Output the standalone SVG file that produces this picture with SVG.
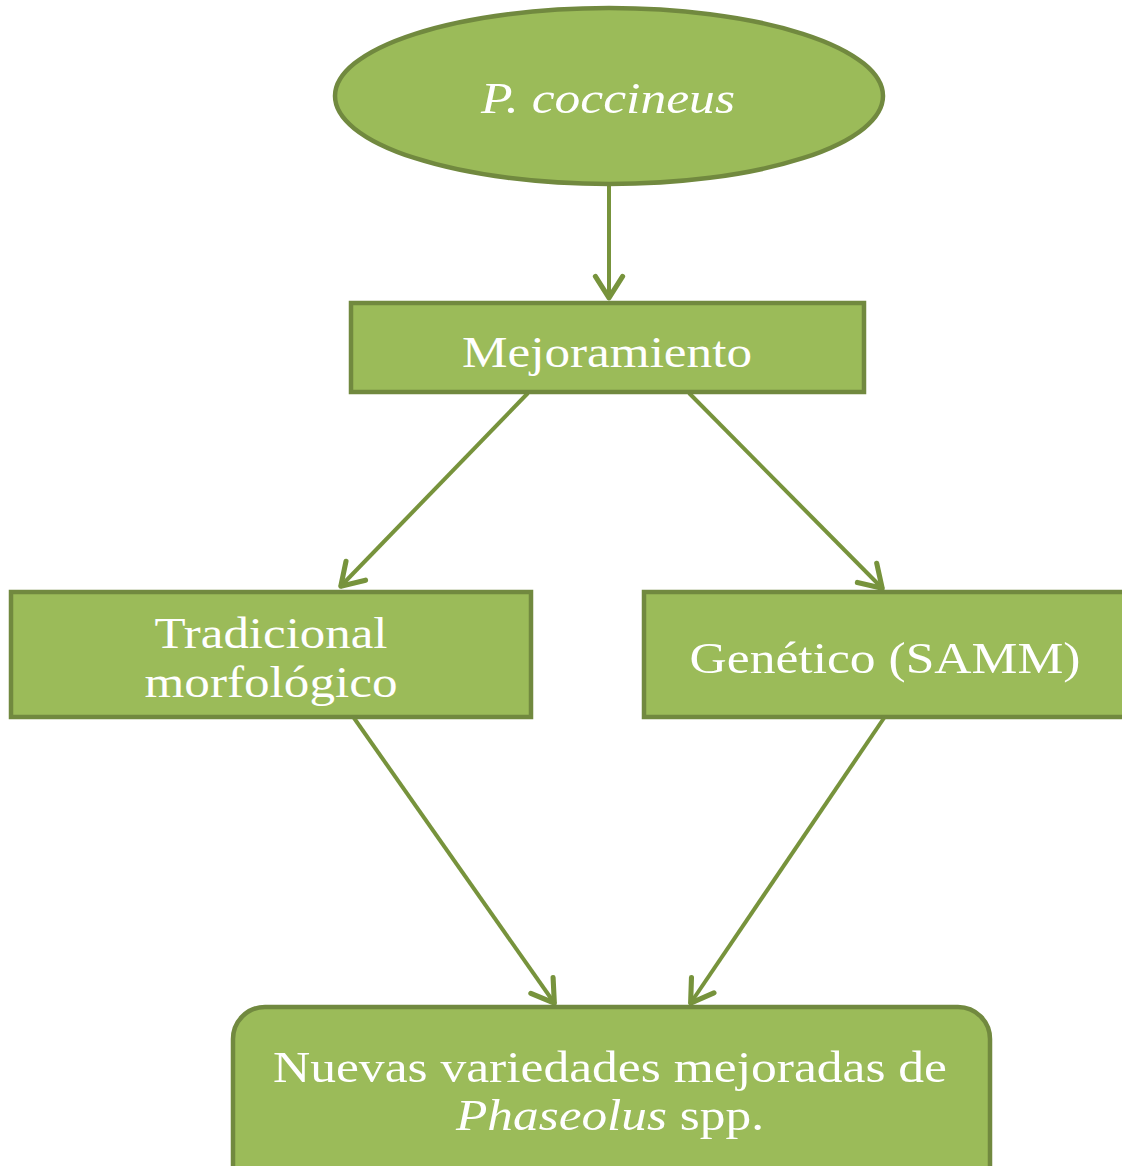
<svg xmlns="http://www.w3.org/2000/svg" width="1122" height="1166" viewBox="0 0 1122 1166">
<defs>
<style>
.node{fill:#9BBB59;stroke:#71893F;stroke-width:4.5}
.lbl{fill:#ffffff;font-family:"Liberation Serif","Times New Roman",serif;font-size:45px;text-anchor:middle}
.it{font-style:italic}
.conn{stroke:#77933C;stroke-width:4;fill:none;marker-end:url(#arr)}
</style>
<marker id="arr" markerUnits="userSpaceOnUse" markerWidth="34" markerHeight="34" viewBox="-24 -15 28 30" refX="1" refY="0" orient="auto">
<path d="M-19,-12 L0,0 L-19,12" fill="none" stroke="#77933C" stroke-width="4.5" stroke-linecap="round" stroke-linejoin="round"/>
</marker>
</defs>
<rect width="1122" height="1166" fill="#ffffff"/>
<g id="connectors">
<line class="conn" x1="609" y1="184" x2="609" y2="299"/>
<line class="conn" x1="528" y1="393" x2="340" y2="587"/>
<line class="conn" x1="689" y1="393" x2="883" y2="589"/>
<line class="conn" x1="354" y1="718" x2="555" y2="1004"/>
<line class="conn" x1="884" y1="718" x2="690" y2="1004"/>
</g>
<g id="n-coccineus">
<ellipse class="node" cx="609" cy="96" rx="274" ry="88"/>
<text class="lbl it" x="608" y="113" textLength="254" lengthAdjust="spacingAndGlyphs">P. coccineus</text>
</g>
<g id="n-mejoramiento">
<rect class="node" x="351" y="303" width="513" height="89"/>
<text class="lbl" x="607" y="367" textLength="290" lengthAdjust="spacingAndGlyphs">Mejoramiento</text>
</g>
<g id="n-tradicional">
<rect class="node" x="11" y="592" width="520" height="125"/>
<text class="lbl" x="271" y="648" textLength="233" lengthAdjust="spacingAndGlyphs">Tradicional</text>
<text class="lbl" x="271" y="697" textLength="253" lengthAdjust="spacingAndGlyphs">morfológico</text>
</g>
<g id="n-genetico">
<rect class="node" x="644" y="592" width="500" height="125"/>
<text class="lbl" x="885" y="673" textLength="391" lengthAdjust="spacingAndGlyphs">Genético (SAMM)</text>
</g>
<g id="n-nuevas">
<rect class="node" x="233" y="1007" width="757" height="190" rx="32" ry="32"/>
<text class="lbl" x="610" y="1082" textLength="674" lengthAdjust="spacingAndGlyphs">Nuevas variedades mejoradas de</text>
<text class="lbl" x="610" y="1130" textLength="308" lengthAdjust="spacingAndGlyphs"><tspan class="it">Phaseolus</tspan> spp.</text>
</g>
</svg>
